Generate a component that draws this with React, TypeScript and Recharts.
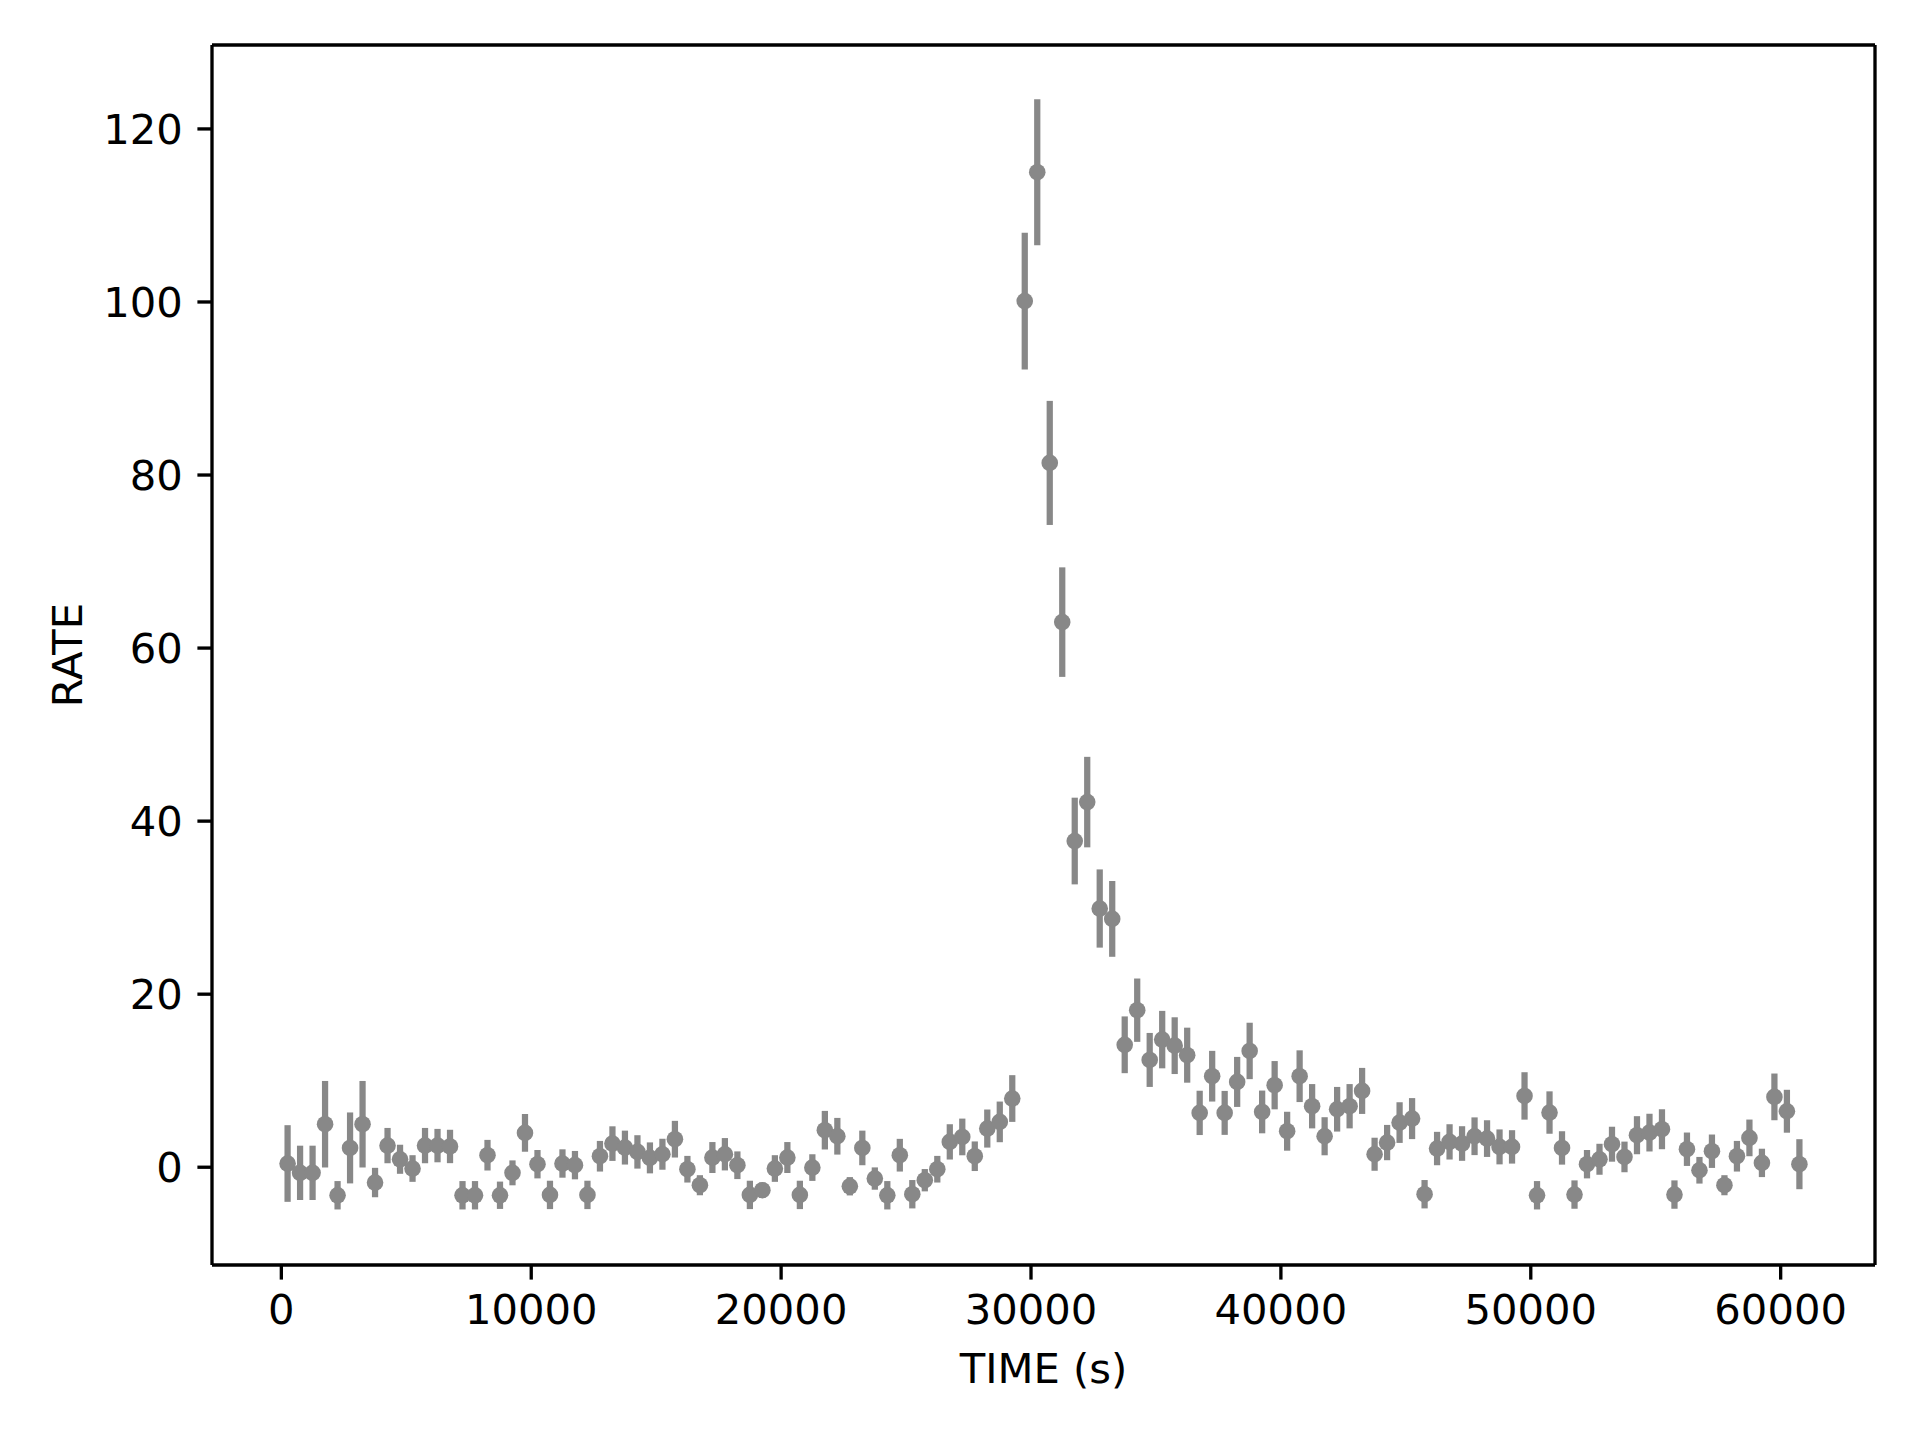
import { ScatterChart, Scatter, XAxis, YAxis, ErrorBar, Label, ReferenceLine } from "recharts"

// light curve, 500 s bins
const times = [
  250, 750, 1250, 1750, 2250, 2750, 3250, 3750, 4250, 4750,
  5250, 5750, 6250, 6750, 7250, 7750, 8250, 8750, 9250, 9750,
  10250, 10750, 11250, 11750, 12250, 12750, 13250, 13750, 14250, 14750,
  15250, 15750, 16250, 16750, 17250, 17750, 18250, 18750, 19250, 19750,
  20250, 20750, 21250, 21750, 22250, 22750, 23250, 23750, 24250, 24750,
  25250, 25750, 26250, 26750, 27250, 27750, 28250, 28750, 29250, 29750,
  30250, 30750, 31250, 31750, 32250, 32750, 33250, 33750, 34250, 34750,
  35250, 35750, 36250, 36750, 37250, 37750, 38250, 38750, 39250, 39750,
  40250, 40750, 41250, 41750, 42250, 42750, 43250, 43750, 44250, 44750,
  45250, 45750, 46250, 46750, 47250, 47750, 48250, 48750, 49250, 49750,
  50250, 50750, 51250, 51750, 52250, 52750, 53250, 53750, 54250, 54750,
  55250, 55750, 56250, 56750, 57250, 57750, 58250, 58750, 59250, 59750,
  60250, 60750,
]

const rates = [
  0.43, -0.65, -0.65, 4.97, -3.24, 2.23, 4.97, -1.77, 2.5, 0.92,
  -0.15, 2.5, 2.5, 2.4, -3.24, -3.24, 1.39, -3.24, -0.65, 3.97,
  0.35, -3.2, 0.43, 0.24, -3.2, 1.27, 2.73, 2.27, 1.77, 1.08,
  1.5, 3.24, -0.23, -2.08, 1.12, 1.5, 0.23, -3.2, -2.66, -0.15,
  1.12, -3.2, -0.04, 4.28, 3.58, -2.2, 2.23, -1.31, -3.24, 1.39,
  -3.12, -1.5, -0.23, 2.93, 3.5, 1.27, 4.47, 5.24, 7.94, 100.1,
  115.0, 81.4, 63.0, 37.7, 42.2, 29.9, 28.7, 14.15, 18.15, 12.4,
  14.75, 14.05, 12.95, 6.28, 10.52, 6.28, 9.86, 13.44, 6.39, 9.48,
  4.16, 10.52, 7.05, 3.58, 6.7, 7.05, 8.82, 1.5, 2.85, 5.16,
  5.62, -3.12, 2.16, 2.93, 2.74, 3.58, 3.31, 2.35, 2.35, 8.24,
  -3.24, 6.32, 2.23, -3.16, 0.35, 0.92, 2.66, 1.19, 3.7, 4.0,
  4.39, -3.16, 2.08, -0.35, 1.85, -2.08, 1.27, 3.39, 0.5, 8.13,
  6.47, 0.35,
]

const rateErrors = [
  4.43, 3.14, 3.14, 5.0, 1.64, 4.1, 5.0, 1.7, 2.04, 1.68,
  1.54, 2.04, 1.93, 1.93, 1.64, 1.64, 1.77, 1.58, 1.44, 2.18,
  1.64, 1.64, 1.64, 1.64, 1.64, 1.77, 2.0, 1.96, 1.93, 1.79,
  1.79, 2.12, 1.54, 1.16, 1.79, 1.87, 1.6, 1.64, 0.9, 1.54,
  1.79, 1.64, 1.54, 2.23, 2.12, 1.06, 2.0, 1.29, 1.64, 1.89,
  1.64, 1.29, 1.54, 2.04, 2.12, 1.71, 2.2, 2.35, 2.7, 7.9,
  8.43, 7.17, 6.33, 5.01, 5.23, 4.52, 4.38, 3.28, 3.66, 3.12,
  3.32, 3.28, 3.18, 2.56, 2.93, 2.54, 2.89, 3.26, 2.47, 2.79,
  2.25, 2.99, 2.56, 2.2, 2.58, 2.56, 2.66, 1.91, 2.04, 2.35,
  2.37, 1.64, 1.93, 2.04, 2.0, 2.18, 2.12, 2.02, 1.93, 2.74,
  1.64, 2.45, 1.93, 1.64, 1.64, 1.79, 2.02, 1.77, 2.2, 2.18,
  2.31, 1.64, 1.93, 1.54, 1.93, 1.16, 1.77, 2.12, 1.64, 2.7,
  2.48, 2.89,
]

const xTicks = [0, 10000, 20000, 30000, 40000, 50000, 60000]
const yTicks = [0, 20, 40, 60, 80, 100, 120]

const xDomain = [-2775, 63775]
const yDomain = [-11.3, 129.7]

const data = times.map((time, i) => ({ time, rate: rates[i], err: rateErrors[i] }))

const GREY = "#888888"
const FONT = "DejaVu Sans"
const FS = 41.7
const LW = 3.33

const tickStyle = { fill: "#000", fontSize: FS, fontFamily: FONT }
const lineStyle = { stroke: "#000", strokeWidth: LW }

export default function App() {
  return (
    <div style={{ position: "absolute", left: 0, top: 0, width: 1920, height: 1440, background: "#fff" }}>
      <ScatterChart width={1920} height={1440} margin={{ top: 45, right: 45, bottom: 0, left: 0 }}>
        <XAxis
          dataKey="time"
          type="number"
          domain={xDomain}
          allowDataOverflow
          ticks={xTicks}
          height={175}
          tickSize={14.6}
          tickMargin={14.6}
          tick={tickStyle}
          tickLine={lineStyle}
          axisLine={lineStyle}
        >
          <Label
            content={({ viewBox }: any) => (
              <text
                x={viewBox.x + viewBox.width / 2}
                y={viewBox.y + 118}
                textAnchor="middle"
                fontSize={FS}
                fontFamily={FONT}
                fill="#000"
              >
                TIME (s)
              </text>
            )}
          />
        </XAxis>
        <YAxis
          dataKey="rate"
          type="number"
          domain={yDomain}
          allowDataOverflow
          ticks={yTicks}
          width={212}
          tickSize={14.6}
          tickMargin={14.6}
          tick={tickStyle}
          tickLine={lineStyle}
          axisLine={lineStyle}
        >
          <Label
            content={({ viewBox }: any) => {
              const cx = 82
              const cy = viewBox.y + viewBox.height / 2
              return (
                <text
                  x={cx}
                  y={cy}
                  transform={`rotate(-90 ${cx} ${cy})`}
                  textAnchor="middle"
                  fontSize={FS}
                  fontFamily={FONT}
                  fill="#000"
                >
                  RATE
                </text>
              )
            }}
          />
        </YAxis>
        {/* top and right spines */}
        <ReferenceLine y={yDomain[1]} stroke="#000" strokeWidth={LW} ifOverflow="visible" />
        <ReferenceLine x={xDomain[1]} stroke="#000" strokeWidth={LW} ifOverflow="visible" />
        <Scatter
          data={data}
          isAnimationActive={false}
          shape={(p: any) => <circle cx={p.cx} cy={p.cy} r={8.3} fill={GREY} />}
        >
          <ErrorBar dataKey="err" direction="y" width={0} stroke={GREY} strokeWidth={6.25} isAnimationActive={false} />
        </Scatter>
      </ScatterChart>
    </div>
  )
}
